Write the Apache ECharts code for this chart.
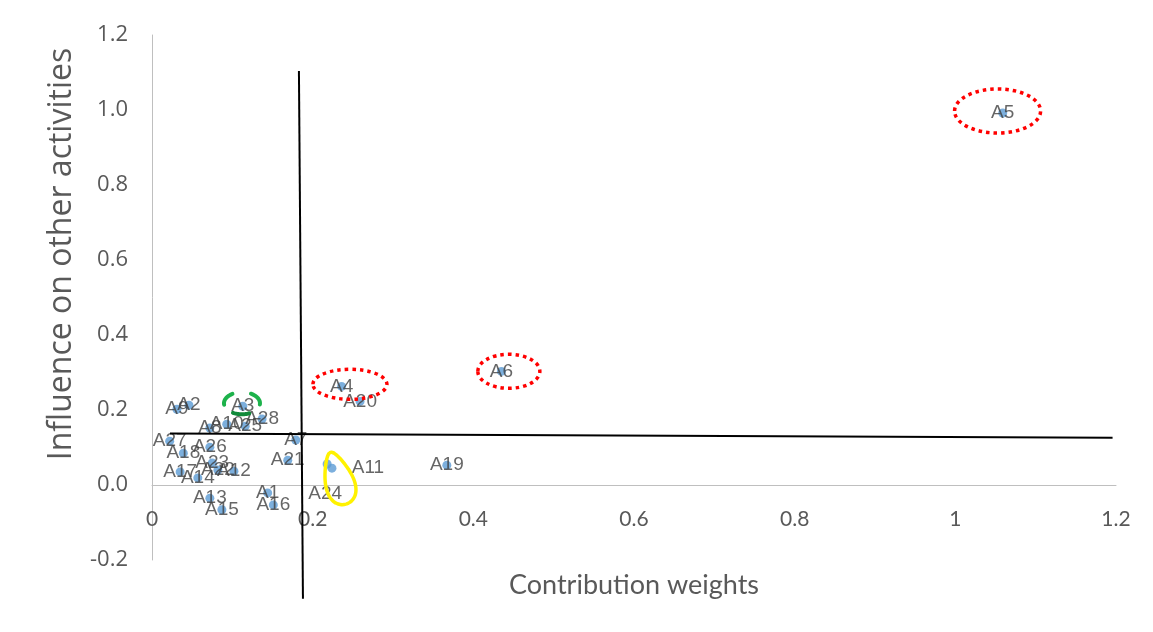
<!DOCTYPE html>
<html><head><meta charset="utf-8">
<script src="https://cdn.jsdelivr.net/npm/echarts/dist/echarts.min.js"></script>
<style>html,body{margin:0;padding:0;background:#fff}#c{width:1153px;height:632px}</style>
</head><body><div id="c"></div>
<script>
// ---- data ----
const activityNames = ['A1','A2','A3','A4','A5','A6','A7','A8','A9','A10','A11','A12','A13','A14','A15','A16','A17','A18','A19','A20','A21','A22','A23','A24','A25','A26','A27','A28'];
const contributionWeights = [0.144,0.046,0.113,0.236,1.059,0.435,0.179,0.072,0.031,0.093,0.224,0.102,0.072,0.057,0.087,0.151,0.035,0.039,0.367,0.259,0.169,0.082,0.075,0.218,0.116,0.072,0.022,0.137];
const influenceValues   = [-0.021,0.213,0.210,0.263,0.992,0.303,0.120,0.152,0.202,0.162,0.045,0.037,-0.035,0.019,-0.066,-0.053,0.035,0.085,0.053,0.223,0.066,0.040,0.059,0.056,0.157,0.101,0.117,0.176];
const xRange = [0, 1.2, 0.2];
const yRange = [-0.2, 1.2, 0.2];
const xTitle = 'Contribution weights';
const yTitle = 'Influence on other activities';

// label offsets (styling, kept apart from values)
const labelShift = { A11: [36, 0], A24: [-2, 30] };

// quadrant divider lines (drawn annotation, data coords)
const dividerV = [[0.1829, 1.1037], [0.1879, -0.3032]];
const dividerH = [[0.0224, 0.1375], [1.1957, 0.1263]];

const GRID = { left: 152, right: 37, top: 35, bottom: 72 };
const H = 632;

const chart = echarts.init(document.getElementById('c'));
const points = activityNames.map((n, i) => {
  const item = { name: n, value: [contributionWeights[i], influenceValues[i]] };
  if (labelShift[n]) item.label = { offset: labelShift[n] };
  return item;
});

chart.setOption({
  animation: false,
  grid: GRID,
  xAxis: {
    type: 'value', min: xRange[0], max: xRange[1], interval: xRange[2],
    splitLine: { show: false },
    axisTick: { show: false },
    axisLine: { show: true, onZero: false, lineStyle: { color: '#BFBFBF', width: 1 } },
    axisLabel: { margin: 24, color: '#595959', fontFamily: 'Lato', fontSize: 21,
      formatter: v => String(+v.toFixed(1)) }
  },
  yAxis: {
    type: 'value', min: yRange[0], max: yRange[1], interval: yRange[2],
    splitLine: { show: false },
    axisTick: { show: false },
    axisLine: { show: true, onZero: false, lineStyle: { color: '#BFBFBF', width: 1 } },
    axisLabel: { margin: 24, color: '#595959', fontFamily: 'Open Sans', fontSize: 22,
      formatter: v => v.toFixed(1) }
  },
  series: [{
    type: 'scatter',
    data: points,
    symbolSize: 9,
    itemStyle: { color: '#5B9BD5' },
    label: { show: true, position: 'inside', formatter: '{b}', color: '#404040',
      fontFamily: 'Liberation Sans', fontSize: 19 }
  }]
});

function px(p) { return chart.convertToPixel({ gridIndex: 0 }, p); }

// move the x axis (line + labels) up to the y = 0 crossing
const zeroY = px([0, 0])[1];
chart.setOption({ xAxis: { offset: -((H - GRID.bottom) - zeroY) } });

// annotations
const g = [];
const a = px(dividerV[0]), b = px(dividerV[1]);
g.push({ type: 'line', shape: { x1: a[0], y1: a[1], x2: b[0], y2: b[1] }, style: { stroke: '#000', lineWidth: 2 }, z: 100 });
const c = px(dividerH[0]), d = px(dividerH[1]);
g.push({ type: 'line', shape: { x1: c[0], y1: c[1], x2: d[0], y2: d[1] }, style: { stroke: '#000', lineWidth: 2 }, z: 100 });

// red dotted ellipses around A5, A6, A4
const redRings = [[[1.0526, 0.9973], 43, 22], [[0.4442, 0.3032], 31, 17], [[0.2464, 0.2686], 37, 15]];
redRings.forEach(r => {
  const p = px(r[0]);
  g.push({ type: 'ellipse', shape: { cx: p[0], cy: p[1], rx: r[1], ry: r[2] },
    style: { fill: null, stroke: '#FF0000', lineWidth: 3.5, lineDash: [3.5, 4] }, z: 110 });
});

// green arcs around A3
const gc = px([0.112, 0.218]);
function arcPts(cx, cy, rx, ry, t0, t1) {
  const out = [];
  for (let k = 0; k <= 16; k++) {
    const t = (t0 + (t1 - t0) * k / 16) * Math.PI / 180;
    out.push([cx + rx * Math.cos(t), cy + ry * Math.sin(t)]);
  }
  return out;
}
[[172, 238, '#1DB24B'], [300, 367, '#1DB24B'], [66, 120, '#118A3A']].forEach(s => {
  g.push({ type: 'polyline', shape: { points: arcPts(gc[0], gc[1], 18, 11, s[0], s[1]) },
    style: { stroke: s[2], lineWidth: 4, fill: null, lineCap: 'round' }, z: 110 });
});

// yellow loop around A11/A24
const yc = px([0.232, 0.018]);
const ux = 0.289, uy = 0.957, vx = 0.957, vy = -0.289;
const loop = [];
for (let k = 0; k <= 60; k++) {
  const t = k / 60 * 2 * Math.PI;
  const bw = 19 * (0.72 + 0.28 * Math.cos(t));
  loop.push([yc[0] + 27 * ux * Math.cos(t) + bw * vx * Math.sin(t),
             yc[1] + 27 * uy * Math.cos(t) + bw * vy * Math.sin(t)]);
}
g.push({ type: 'polyline', shape: { points: loop, smooth: 0.3 }, style: { stroke: '#FFF200', lineWidth: 3.5, fill: null }, z: 110 });

// axis titles
const xMid = px([(xRange[0] + xRange[1]) / 2, 0]);
g.push({ type: 'text', x: xMid[0], y: 585, style: { text: xTitle, fill: '#595959', font: '27px Lato', align: 'center', verticalAlign: 'middle' } });
g.push({ type: 'text', x: 62, y: 254, rotation: Math.PI / 2, style: { text: yTitle, fill: '#595959', font: '32px "Open Sans"', align: 'center', verticalAlign: 'middle' } });

chart.setOption({ graphic: g });
</script>
</body></html>
